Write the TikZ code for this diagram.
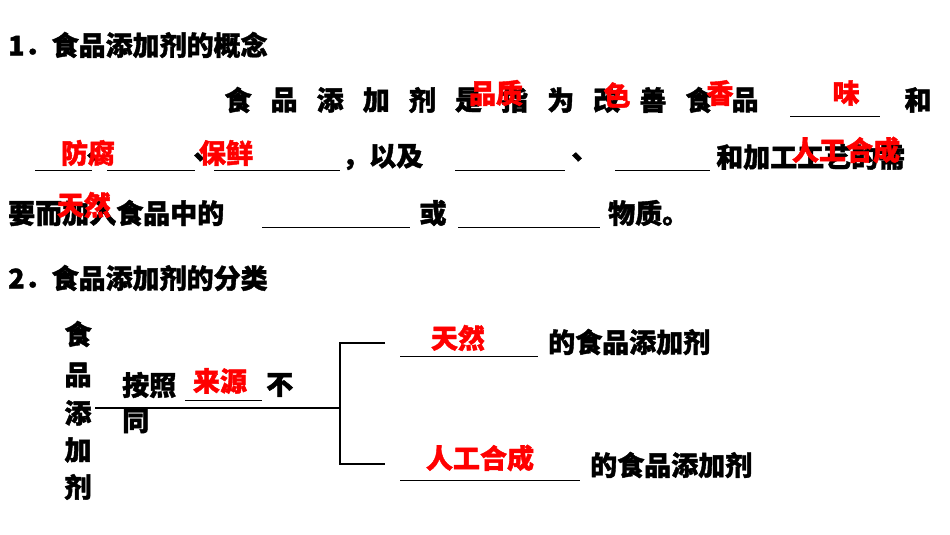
\documentclass[tikz,border=0pt]{standalone}
\usepackage{fontspec}
\setmainfont{Noto Sans CJK SC}[FakeBold=1.5]
\begin{document}
\begin{tikzpicture}[x=1pt,y=-1pt,
  t/.style={anchor=west,inner sep=0pt,font=\fontsize{27}{27}\selectfont\bfseries},
  c/.style={inner sep=0pt,font=\fontsize{27}{27}\selectfont\bfseries},
  r/.style={inner sep=0pt,text=red,font=\fontsize{27}{27}\selectfont\bfseries},
  u/.style={line width=1pt}]
\useasboundingbox (0,0) rectangle (950,535);
\node[t] (h1) at (8,45) {1．食品添加剂的概念};
\foreach \ch [count=\i from 0] in {食,品,添,加,剂,是,指,为,改,善,食,品}
  \node[c] (l2c\i) at (238+46.1*\i,100) {\ch};
\draw[u] (790,116) -- (880,116);
\node[c] (he) at (918,100) {和};
% line 3
\draw[u] (35,170) -- (92,170);
\node[c] (d1) at (100,157) {、};
\draw[u] (107,170) -- (195,170);
\node[c] (d2) at (207,157) {、};
\draw[u] (214,170) -- (340,170);
\node[t] (yj) at (342,157) {，以及};
\draw[u] (455,170) -- (565,170);
\node[c] (d3) at (585,157) {、};
\draw[u] (615,170) -- (710,170);
\node[t] (hj) at (716,157) {和加工工艺的需};
% line 4
\node[t] (yr) at (8,213) {要而加入食品中的};
\draw[u] (262,227) -- (410,227);
\node[c] (huo) at (433,213) {或};
\draw[u] (458,227) -- (600,227);
\node[t] (wz) at (608,213) {物质。};
% red answers
\node[r] (a1) at (496,93) {品质};
\node[r] (a2) at (617,95) {色};
\node[r] (a3) at (720,93) {香};
\node[r] (a4) at (846,93) {味};
\node[r] (a5) at (88,153) {防腐};
\node[r] (a6) at (226,153) {保鲜};
\node[r] (a7) at (846,150) {人工合成};
\node[r] (a8) at (84,205) {天然};
% section 2
\node[t] (h2) at (8,278) {2．食品添加剂的分类};
\foreach \ch/\y [count=\i] in {食/334,品/375,添/413,加/450,剂/487}
  \node[c] (v\i) at (78,\y) {\ch};
\node[t] (az) at (122,385) {按照};
\draw[u] (185,400) -- (262,400);
\node[t] (bu) at (266,385) {不};
\node[t] (tong) at (122,421) {同};
\node[r] (a9) at (220,381) {来源};
\coordinate (s) at (95,408);
\coordinate (m) at (340,408);
\coordinate (mt) at (340,343);
\coordinate (mb) at (340,464);
\coordinate (et) at (385,343);
\coordinate (eb) at (385,464);
\draw[line width=1.5pt] (s) -- (m);
\draw[line width=1.5pt] (et) -- (mt) -- (mb) -- (eb);
\draw[u] (400,356) -- (538,356);
\node[t] (k1) at (548,342) {的食品添加剂};
\node[r] (a10) at (458,338) {天然};
\draw[u] (400,480) -- (580,480);
\node[t] (k2) at (590,465) {的食品添加剂};
\node[r] (a11) at (480,458) {人工合成};
\end{tikzpicture}
\end{document}
